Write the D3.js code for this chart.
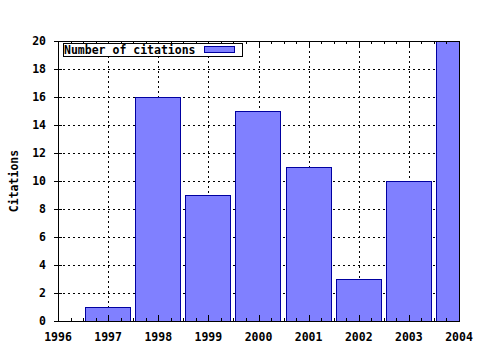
<!DOCTYPE html>
<html>
<head>
<meta charset="utf-8">
<script src="https://cdn.jsdelivr.net/npm/d3@7"></script>
<style>
  body { margin: 0; background: #fff; }
  text { font-family: "DejaVu Sans Mono", monospace; font-weight: bold; font-size: 11.5px; fill: #000; }
</style>
</head>
<body>
<div id="main"></div>
<script>
// data
let years = [1997, 1998, 1999, 2000, 2001, 2002, 2003, 2004]
let citations = [1, 16, 9, 15, 11, 3, 10, 20]
let xTicks = [1996, 1997, 1998, 1999, 2000, 2001, 2002, 2003, 2004]
let yTicks = [0, 2, 4, 6, 8, 10, 12, 14, 16, 18, 20]
let seriesName = "Number of citations"

let width = 480
let height = 350
let pLeft = 58, pRight = 459, pTop = 41, pBottom = 321

let svg = d3.select("#main")
            .append("svg")
            .attr("width", width)
            .attr("height", height)

const xScale = d3.scaleLinear().domain([1996, 2004]).range([pLeft, pRight])
const yScale = d3.scaleLinear().domain([0, 20]).range([pBottom, pTop])

// grid
let grid = svg.append("g").attr("stroke", "#000").attr("stroke-dasharray", "2,3").attr("stroke-width", 1)
grid.selectAll(".vg")
    .data(xTicks.slice(1, -1))
    .enter()
    .append("line")
    .attr("x1", d => Math.round(xScale(d)) + 0.5)
    .attr("x2", d => Math.round(xScale(d)) + 0.5)
    .attr("y1", pTop)
    .attr("y2", pBottom)
grid.selectAll(".hg")
    .data(yTicks.slice(1, -1))
    .enter()
    .append("line")
    .attr("x1", pLeft)
    .attr("x2", pRight)
    .attr("y1", d => Math.round(yScale(d)) + 0.5)
    .attr("y2", d => Math.round(yScale(d)) + 0.5)

// bars, clipped to the plot area
svg.append("clipPath").attr("id", "plot")
   .append("rect").attr("x", pLeft).attr("y", pTop).attr("width", pRight - pLeft + 1).attr("height", pBottom - pTop)

let barWidth = (xScale(1) - xScale(0)) * 0.9
svg.append("g")
   .attr("clip-path", "url(#plot)")
   .selectAll("rect")
   .data(citations)
   .enter()
   .append("rect")
   .attr("x", (d, i) => Math.floor(xScale(years[i]) - barWidth / 2) + 0.5)
   .attr("y", d => Math.round(yScale(d)) + 0.5)
   .attr("width", Math.round(barWidth))
   .attr("height", d => Math.round(yScale(0)) - Math.round(yScale(d)))
   .attr("fill", "#8080ff")
   .attr("stroke", "#0000a0")
   .attr("stroke-width", 1)

// border
svg.append("rect")
   .attr("x", pLeft + 0.5).attr("y", pTop + 0.5)
   .attr("width", pRight - pLeft).attr("height", pBottom - pTop)
   .attr("fill", "none").attr("stroke", "#000")

// minor ticks on x (quarter years), major on years
let minor = d3.range(1996, 2004.001, 0.25)
let ticks = svg.append("g").attr("stroke", "#000")
ticks.selectAll(".mt")
     .data(minor)
     .enter()
     .append("line")
     .attr("x1", d => Math.round(xScale(d)) + 0.5)
     .attr("x2", d => Math.round(xScale(d)) + 0.5)
     .attr("y1", pBottom)
     .attr("y2", d => pBottom - (Number.isInteger(d) ? 6 : 3))
ticks.selectAll(".mtt")
     .data(minor)
     .enter()
     .append("line")
     .attr("x1", d => Math.round(xScale(d)) + 0.5)
     .attr("x2", d => Math.round(xScale(d)) + 0.5)
     .attr("y1", pTop)
     .attr("y2", d => pTop + (Number.isInteger(d) ? 6 : 3))
ticks.selectAll(".yt")
     .data(yTicks)
     .enter()
     .append("line")
     .attr("x1", pLeft - 4)
     .attr("x2", pLeft + 4)
     .attr("y1", d => Math.round(yScale(d)) + 0.5)
     .attr("y2", d => Math.round(yScale(d)) + 0.5)

// tick labels
svg.append("g")
   .selectAll("text")
   .data(xTicks)
   .enter()
   .append("text")
   .attr("x", d => xScale(d))
   .attr("y", 341)
   .attr("text-anchor", "middle")
   .text(d => d)

svg.append("g")
   .selectAll("text")
   .data(yTicks)
   .enter()
   .append("text")
   .attr("x", 46)
   .attr("y", d => yScale(d) + 4)
   .attr("text-anchor", "end")
   .text(d => d)

svg.append("text")
   .attr("transform", "translate(18,181) rotate(-90)")
   .attr("text-anchor", "middle")
   .text("Citations")

// legend
let legend = svg.append("g")
legend.append("rect")
      .attr("x", 63.5).attr("y", 43.5).attr("width", 179).attr("height", 13)
      .attr("fill", "#fff").attr("stroke", "#000")
legend.append("text")
      .attr("x", 64).attr("y", 54)
      .text(seriesName)
legend.append("rect")
      .attr("x", 204.5).attr("y", 46.5).attr("width", 30).attr("height", 6)
      .attr("fill", "#8080ff").attr("stroke", "#0000a0")
</script>
</body>
</html>
